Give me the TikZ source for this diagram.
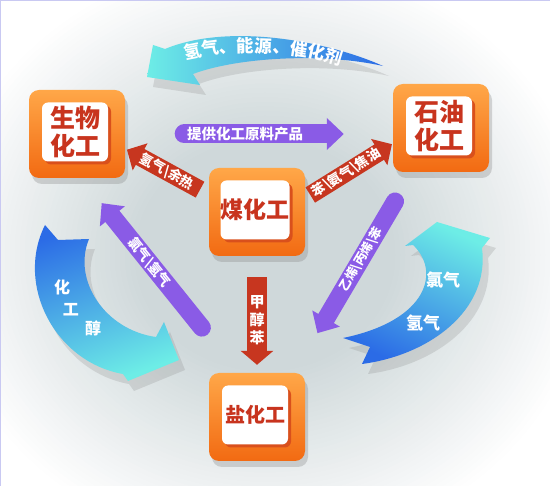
\documentclass[tikz,border=0pt]{standalone}
\usepackage{fontspec}
\newfontfamily\cjk{Noto Sans CJK SC}
\usetikzlibrary{arrows.meta,shadows,decorations.text}

\definecolor{bgGray}{HTML}{CFD8DA}
\definecolor{frameLight}{HTML}{FFA748}
\definecolor{frameDark}{HTML}{F26A12}
\definecolor{faceBevel}{HTML}{D9501C}
\definecolor{labelRed}{HTML}{C8341E}
\definecolor{arrowRed}{HTML}{C7361F}
\definecolor{arrowPurple}{HTML}{8A5BE6}
\definecolor{arcBlue}{HTML}{2B6BE6}
\definecolor{arcCyan}{HTML}{6DEDE6}
\definecolor{edgeLine}{HTML}{C9C9F2}

\newcommand\arcfont{\cjk\bfseries\fontsize{17.5}{17.5}\selectfont\color{white}}

\begin{document}
\begin{tikzpicture}[
        x=1pt, y=-1pt,
        chemframe/.style={rectangle, rounded corners=10pt, minimum width=96pt, minimum height=88pt, top color=frameLight, bottom color=frameDark, drop shadow={shadow xshift=3pt, shadow yshift=-6pt, opacity=0.3}},
        chemface/.style={rectangle, rounded corners=6pt, fill=white, minimum width=66pt, minimum height=59pt, inner sep=0pt, align=center, text=labelRed, drop shadow={shadow xshift=3pt, shadow yshift=-3pt, opacity=1, fill=faceBevel}},
        redarrow/.style={draw=arrowRed, line width=18pt, -{Triangle[width=30pt, length=15pt]}},
        purplearrow/.style={draw=arrowPurple, line width=19pt, line cap=round, -{Triangle[width=31pt, length=17pt]}},
        arrowtext/.style={text=white, font=\cjk\bfseries\fontsize{13.5}{13.5}\selectfont, inner sep=0pt},
        arctext/.style={text=white, font=\cjk\bfseries\fontsize{16}{16}\selectfont, inner sep=0pt},
        arcshadow/.style={drop shadow={shadow xshift=6pt, shadow yshift=-10pt, opacity=0.22}}
    ]

        \useasboundingbox (0,0) rectangle (550,486);

        % Background: soft grey glow
        \begin{scope}
            \clip (0,0) rectangle (550,486);
            \fill[white] (0,0) rectangle (550,486);
            \foreach \k in {0,...,40} {
                \pgfmathsetmacro\mix{\k*2.5}
                \fill[bgGray!\mix!white] (265,255) ellipse ({330-\k*5} and {300-\k*4.6});
            }
        \end{scope}
        \draw[edgeLine, line width=1.2pt] (0,0.6) -- (550,0.6);
        \draw[edgeLine, line width=1.2pt] (0.6,0) -- (0.6,486);

        % Top arc: oil -> bio
        \shade[arcshadow, left color=arcCyan, right color=arcBlue] (383,66) .. controls (330,42) and (230,22) .. (165,49) -- (153,45) -- (147,77) -- (200,85) -- (193,74) .. controls (235,58) and (320,52) .. (383,66) -- cycle;
        \path[decorate, decoration={text along path, text align=center, text={|\arcfont|氢气、能源、催化剂}}] (170,64) .. controls (215,48) and (300,46) .. (355,72);

        % Left arc: bio -> salt
        \shade[arcshadow, top color=arcBlue, bottom color=arcCyan, shading angle=20] (45,225) -- (58,240) -- (89,239) .. controls (72,280) and (105,330) .. (156,337) -- (164,322) -- (179,360) -- (128,381) -- (123,374) .. controls (55,362) and (15,285) .. (45,225) -- cycle;
        \node[arctext] (arc_l1) at (62,287) {化};
        \node[arctext] (arc_l2) at (71,310) {工};
        \node[arctext] (arc_l3) at (93,328) {醇};

        % Right arc: salt -> oil
        \shade[arcshadow, top color=arcCyan, bottom color=arcBlue, shading angle=-25] (437,222) -- (405,246) -- (413,245) .. controls (440,270) and (430,320) .. (343,338) -- (370,347) -- (362,364) .. controls (430,355) and (490,310) .. (482,248) -- (490,238) -- cycle;
        \node[arctext, font=\cjk\bfseries\fontsize{17}{17}\selectfont] (arc_r1) at (443,280) {氯气};
        \node[arctext, font=\cjk\bfseries\fontsize{17}{17}\selectfont] (arc_r2) at (423,323) {氢气};

        % Boxes
        \node[chemframe] (bio) at (77,134) {};
        \node[chemface, font=\cjk\bfseries\fontsize{25}{28}\selectfont] (bio_face) at (75,132) {生物\\化工};
        \node[chemframe] (oil) at (441,128) {};
        \node[chemface, font=\cjk\bfseries\fontsize{25}{28}\selectfont] (oil_face) at (439,126) {石油\\化工};
        \node[chemframe] (coal) at (257,212) {};
        \node[chemface, font=\cjk\bfseries\fontsize{23}{26}\selectfont] (coal_face) at (255,210) {煤化工};
        \node[chemframe] (salt) at (257,417) {};
        \node[chemface, font=\cjk\bfseries\fontsize{20}{24}\selectfont] (salt_face) at (255,415) {盐化工};

        % Coal chemistry outputs
        \draw[redarrow, shorten <=10pt, shorten >=2pt] (coal.160) -- (bio.-17) node[arrowtext, sloped, pos=0.5] {氢气\textbackslash 余热};
        \draw[redarrow, shorten <=6pt, shorten >=1pt] (coal.16) -- (oil.198) node[arrowtext, sloped, pos=0.47] {苯\textbackslash 氨气\textbackslash 焦油};
        \draw[redarrow, line width=20pt, -{Triangle[width=32pt, length=14pt]}, shorten <=21pt, shorten >=8pt] (coal.south) -- (salt.north) node[arrowtext, pos=0.55, align=center, font=\cjk\bfseries\fontsize{15}{18}\selectfont] {甲\\醇\\苯};

        % Purple links
        \draw[purplearrow, shorten <=59pt, shorten >=49pt] (bio.east) -- (bio.east -| oil.west) node[arrowtext, pos=0.448, font=\cjk\bfseries\fontsize{14.5}{14.5}\selectfont] {提供化工原料产品};
        \draw[purplearrow, line width=18pt, shorten <=58pt, shorten >=32pt] (salt.113) -- (bio.-84) node[arrowtext, sloped, pos=0.568, font=\cjk\bfseries\fontsize{13.5}{13.5}\selectfont] {氯气\textbackslash 氢气};
        \draw[purplearrow, line width=18pt, shorten <=34pt, shorten >=46pt] (oil.237) -- (salt.50) node[arrowtext, sloped, pos=0.435, font=\cjk\bfseries\fontsize{12.5}{12.5}\selectfont] {乙烯\textbackslash 丙烯\textbackslash 苯};

    \end{tikzpicture}
\end{document}
